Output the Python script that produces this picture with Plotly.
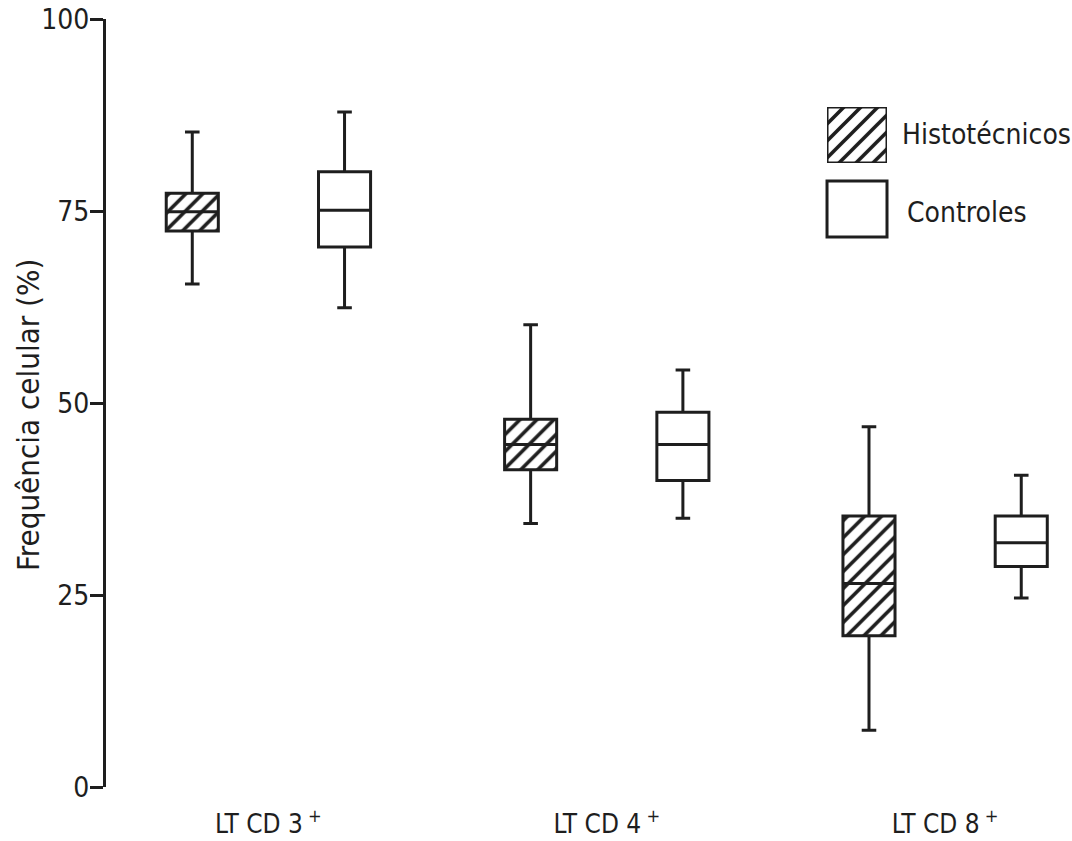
import plotly.graph_objects as go

categories = ["LT CD 3+", "LT CD 4+", "LT CD 8+"]
tick_labels = ["LT CD 3<sup> +</sup>", "LT CD 4<sup> +</sup>", "LT CD 8<sup> +</sup>"]

# Histotécnicos
hist_low = [65.5, 34.3, 7.4]
hist_q1 = [72.4, 41.3, 19.7]
hist_med = [74.9, 44.6, 26.5]
hist_q3 = [77.3, 47.9, 35.3]
hist_high = [85.3, 60.2, 46.9]

# Controles
ctrl_low = [62.4, 35.0, 24.6]
ctrl_q1 = [70.3, 39.9, 28.7]
ctrl_med = [75.1, 44.6, 31.8]
ctrl_q3 = [80.1, 48.8, 35.3]
ctrl_high = [87.9, 54.3, 40.6]

yticks = [0, 25, 50, 75, 100]

INK = "#1e1e1e"
FONT = "DejaVu Sans Condensed, Liberation Sans Narrow, sans-serif"
GAP = 0.10
GROUPGAP = 0.658
HATCH = dict(shape="/", fgcolor=INK, bgcolor="white", fgopacity=1, size=12, solidity=0.3)

fig = go.Figure()

# hatched fill behind Histotécnicos boxes
fig.add_trace(go.Bar(
    x=categories, base=hist_q1,
    y=[b - a for a, b in zip(hist_q1, hist_q3)],
    marker=dict(color="white", line=dict(width=0), pattern=HATCH),
    showlegend=False, hoverinfo="skip", offsetgroup="h"))
fig.add_trace(go.Bar(
    x=categories, base=ctrl_q1,
    y=[b - a for a, b in zip(ctrl_q1, ctrl_q3)],
    marker=dict(color="white", line=dict(width=0)),
    showlegend=False, hoverinfo="skip", offsetgroup="c"))

fig.add_trace(go.Box(
    name="Histotécnicos", x=categories, q1=hist_q1, median=hist_med, q3=hist_q3,
    lowerfence=hist_low, upperfence=hist_high, boxpoints=False,
    fillcolor="rgba(0,0,0,0)", line=dict(color=INK, width=3),
    whiskerwidth=0.28, offsetgroup="h", showlegend=False))
fig.add_trace(go.Box(
    name="Controles", x=categories, q1=ctrl_q1, median=ctrl_med, q3=ctrl_q3,
    lowerfence=ctrl_low, upperfence=ctrl_high, boxpoints=False,
    fillcolor="rgba(0,0,0,0)", line=dict(color=INK, width=3),
    whiskerwidth=0.28, offsetgroup="c", showlegend=False))

# legend swatch (hatched) on an auxiliary axis
fig.add_trace(go.Bar(
    x=[0], y=[1], width=[1], xaxis="x2", yaxis="y2", cliponaxis=False,
    marker=dict(color="white", line=dict(color=INK, width=3), pattern=HATCH),
    showlegend=False, hoverinfo="skip"))

fig.update_layout(
    width=1072, height=841,
    margin=dict(l=106, r=0, t=19, b=54),
    paper_bgcolor="white", plot_bgcolor="white",
    boxmode="group", barmode="group",
    boxgap=GAP, boxgroupgap=GROUPGAP, bargap=GAP, bargroupgap=GROUPGAP,
    font=dict(family=FONT, color=INK, size=26),
    xaxis=dict(range=[-0.48, 2.375], showline=False, showgrid=False, zeroline=False,
               ticks="", tickvals=categories, ticktext=tick_labels, automargin=False,
               ticklabelstandoff=19, ticklabeloverflow="allow", tickfont=dict(size=26)),
    yaxis=dict(range=[0, 100], tickvals=yticks, showline=True, linewidth=3, linecolor=INK,
               ticks="outside", ticklen=13, tickwidth=3, tickcolor=INK, automargin=False,
               ticklabeloverflow="allow", ticklabelstandoff=-5,
               showgrid=False, zeroline=False, tickfont=dict(size=28)),
    xaxis2=dict(domain=[0.7464, 0.8085], anchor="y2", range=[-0.5, 0.5], visible=False),
    yaxis2=dict(domain=[0.8125, 0.8854], anchor="x2", range=[0, 1], visible=False),
    shapes=[dict(type="rect", xref="paper", yref="paper",
                 x0=0.7464, x1=0.8085, y0=0.7161, y1=0.7891,
                 line=dict(color=INK, width=3), fillcolor="white")],
    annotations=[
        dict(text="Frequência celular (%)", xref="paper", yref="paper",
             x=-0.0807, y=0.4844, textangle=-90, xanchor="center", yanchor="middle",
             showarrow=False, font=dict(size=31)),
        dict(text="Histotécnicos", xref="paper", yref="paper", x=0.822, y=0.849,
             xanchor="left", yanchor="middle", showarrow=False, font=dict(size=28)),
        dict(text="Controles", xref="paper", yref="paper", x=0.827, y=0.7474,
             xanchor="left", yanchor="middle", showarrow=False, font=dict(size=28)),
    ],
)

fig.write_html("out.html")
